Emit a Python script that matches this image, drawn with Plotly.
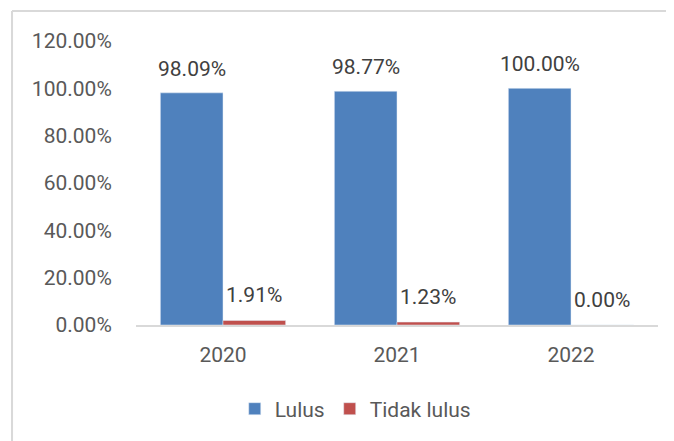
import plotly.graph_objects as go

years = ["2020", "2021", "2022"]
lulus = [98.09, 98.77, 100.00]
tidak_lulus = [1.91, 1.23, 0.00]
y_ticks = [0, 20, 40, 60, 80, 100, 120]

xpos = list(range(len(years)))
font_family = "Roboto, Arial"
txt = "#404040"
axc = "#595959"

fig = go.Figure()
fig.add_trace(go.Bar(x=xpos, y=lulus, name="Lulus", marker_color="#4F81BD"))
fig.add_trace(go.Bar(x=xpos, y=tidak_lulus, name="Tidak lulus", marker_color="#C0504D"))

off = 0.18
for i, (a, b) in enumerate(zip(lulus, tidak_lulus)):
    fig.add_annotation(x=xpos[i] - off, y=a, text=f"{a:.2f}%", showarrow=False,
                       yshift=24, font=dict(size=21, color=txt, family=font_family))
    fig.add_annotation(x=xpos[i] + off, y=b, text=f"{b:.2f}%", showarrow=False,
                       yshift=25, font=dict(size=21, color=txt, family=font_family))

frame = dict(color="#D9D9D9", width=2)
fig.add_shape(type="line", xref="paper", yref="paper", x0=-0.2375, x1=1.3, y0=1.106, y1=1.106,
              line=frame, layer="below")
fig.add_shape(type="line", xref="paper", yref="paper", x0=-0.2375, x1=-0.2375, y0=-0.8, y1=1.106,
              line=frame, layer="below")

fig.update_layout(
    width=666, height=433,
    margin=dict(l=128, r=16, t=33, b=116),
    paper_bgcolor="white", plot_bgcolor="white",
    barmode="group", bargap=0.28, bargroupgap=0,
    font=dict(family=font_family, color=axc, size=20),
    showlegend=True,
    legend=dict(orientation="h", x=0.42, xanchor="center", y=-0.296, yanchor="middle",
                font=dict(size=21, color=axc), itemwidth=30),
    xaxis=dict(tickvals=xpos, ticktext=years, range=[-0.5, 2.5], showgrid=False,
               showline=True, linecolor="#D9D9D9", linewidth=2, ticks="outside",
               ticklen=10, tickcolor="rgba(0,0,0,0)", zeroline=False,
               tickfont=dict(size=21, color=axc)),
    yaxis=dict(range=[0, 120], tickvals=y_ticks, ticktext=[f"{v:.2f}%" for v in y_ticks],
               showgrid=False, showline=False, zeroline=False, ticks="outside",
               ticklen=19, tickcolor="rgba(0,0,0,0)",
               tickfont=dict(size=21, color=axc)),
)

fig.write_html("out.html")
